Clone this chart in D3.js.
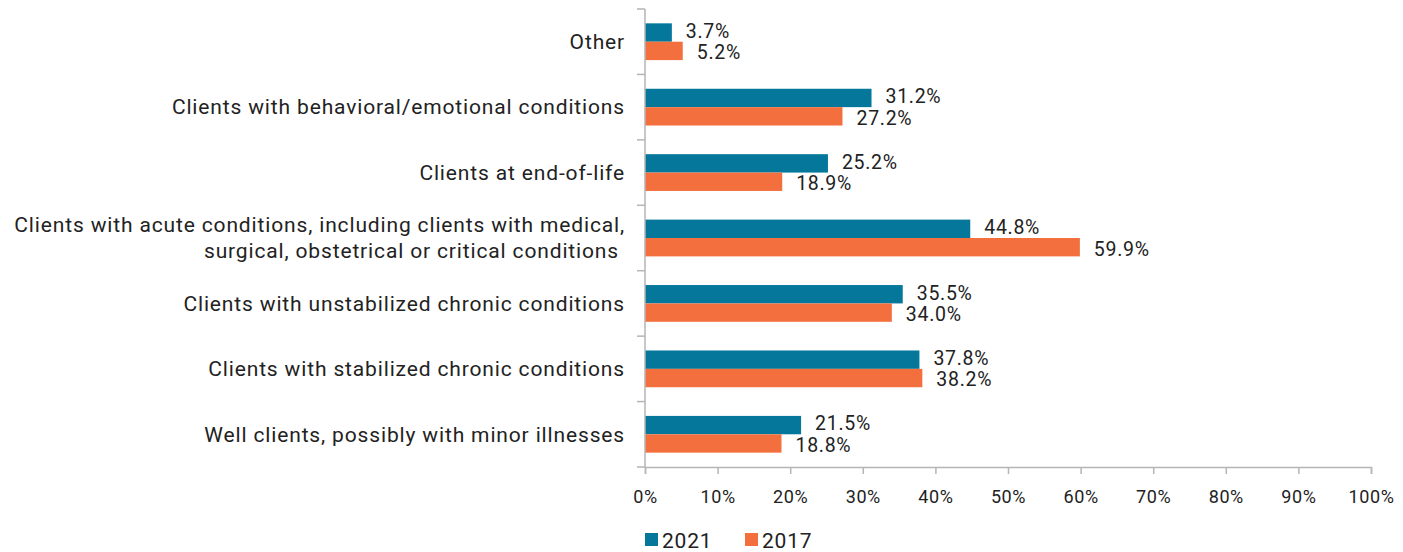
<!DOCTYPE html>
<html>
<head>
<meta charset="utf-8">
<script src="https://cdn.jsdelivr.net/npm/d3@7"></script>
<style>
  body { margin: 0; background: #fff; }
  text { font-family: Roboto, "Liberation Sans", sans-serif; fill: #222; }
</style>
</head>
<body>
<script>
// categories, top to bottom
var categories = [
  "Other",
  "Clients with behavioral/emotional conditions",
  "Clients at end-of-life",
  "Clients with acute conditions, including clients with medical,|surgical, obstetrical or critical conditions",
  "Clients with unstabilized chronic conditions",
  "Clients with stabilized chronic conditions",
  "Well clients, possibly with minor illnesses"
];
var values2021 = [3.7, 31.2, 25.2, 44.8, 35.5, 37.8, 21.5];
var values2017 = [5.2, 27.2, 18.9, 59.9, 34.0, 38.2, 18.8];
var seriesNames = ["2021", "2017"];
var colors = ["#04779b", "#f3703e"];
var xTicks = [0, 10, 20, 30, 40, 50, 60, 70, 80, 90, 100];

var width = 1403, height = 552;
var margin = {left: 645, right: 32, top: 9, bottom: 85};

var svg = d3.select("body").append("svg")
  .attr("width", width)
  .attr("height", height);

var x = d3.scaleLinear().domain([0, 100]).range([margin.left, width - margin.right]);
var y = d3.scaleBand().domain(d3.range(categories.length))
  .range([margin.top, height - margin.bottom]);
var sub = d3.scaleBand().domain([0, 1]).range([0, y.bandwidth()]).paddingOuter(0.78);

var data = categories.map(function(c, i) {
  return {i: i, vals: [values2021[i], values2017[i]]};
});

// bars
var groups = svg.selectAll("g.cat").data(data).enter().append("g")
  .attr("class", "cat")
  .attr("transform", function(d) { return "translate(0," + y(d.i) + ")"; });

groups.selectAll("rect").data(function(d) { return d.vals; }).enter().append("rect")
  .attr("x", x(0))
  .attr("y", function(d, j) { return sub(j); })
  .attr("width", function(d) { return x(d) - x(0); })
  .attr("height", sub.bandwidth())
  .attr("fill", function(d, j) { return colors[j]; });

// value labels
groups.selectAll("text.val").data(function(d) { return d.vals; }).enter().append("text")
  .attr("class", "val")
  .attr("x", function(d) { return x(d) + 14; })
  .attr("y", function(d, j) { return sub(j) + sub.bandwidth() / 2 + (j == 0 ? -1.5 : 1.5); })
  .attr("dy", "0.35em")
  .style("font-size", "19.5px")
  .style("letter-spacing", "0.7px")
  .text(function(d) { return d.toFixed(1) + "%"; });

// category labels
svg.selectAll("text.cat").data(categories).enter().append("text")
  .attr("class", "cat")
  .attr("text-anchor", "end")
  .style("font-size", "21px")
  .style("letter-spacing", "0.85px")
  .each(function(d, i) {
    var lines = d.split("|");
    var t = d3.select(this);
    var cy = y(i) + y.bandwidth() / 2;
    lines.forEach(function(l, k) {
      t.append("tspan")
        .attr("x", k == 1 ? 619 : 625)
        .attr("y", cy + (k - (lines.length - 1) / 2) * 26)
        .attr("dy", "0.35em")
        .text(l);
    });
  });

// y axis line and ticks
var axisColor = "#b5b5b5";
svg.append("line")
  .attr("x1", x(0)).attr("x2", x(0))
  .attr("y1", margin.top).attr("y2", height - margin.bottom)
  .attr("stroke", axisColor).attr("stroke-width", 1.5);
svg.selectAll("line.ytick").data(d3.range(categories.length + 1)).enter().append("line")
  .attr("x1", x(0) - 8).attr("x2", x(0))
  .attr("y1", function(d) { return margin.top + d * y.step(); })
  .attr("y2", function(d) { return margin.top + d * y.step(); })
  .attr("stroke", axisColor).attr("stroke-width", 1.5);

// x axis
var xAxis = svg.append("g")
  .attr("transform", "translate(0," + (height - margin.bottom) + ")")
  .call(d3.axisBottom(x).tickValues(xTicks).tickSize(7).tickPadding(16)
    .tickFormat(function(d) { return d + "%"; }));
xAxis.select(".domain").attr("stroke", axisColor).attr("stroke-width", 1.5);
xAxis.selectAll(".tick line").attr("stroke", axisColor).attr("stroke-width", 1.5);
xAxis.selectAll(".tick text").style("font-size", "18px").attr("fill", "#222")
  .style("letter-spacing", "0.6px")
  .style("font-family", "Roboto, 'Liberation Sans', sans-serif");

// legend
var legend = svg.selectAll("g.legend").data(seriesNames).enter().append("g")
  .attr("class", "legend")
  .attr("transform", function(d, i) { return "translate(" + (645 + i * 100) + ",533)"; });
legend.append("rect")
  .attr("width", 13).attr("height", 13)
  .attr("fill", function(d, i) { return colors[i]; });
legend.append("text")
  .attr("x", 17).attr("y", 7)
  .attr("dy", "0.36em")
  .style("font-size", "21px")
  .style("letter-spacing", "0.8px")
  .text(function(d) { return d; });
</script>
</body>
</html>
